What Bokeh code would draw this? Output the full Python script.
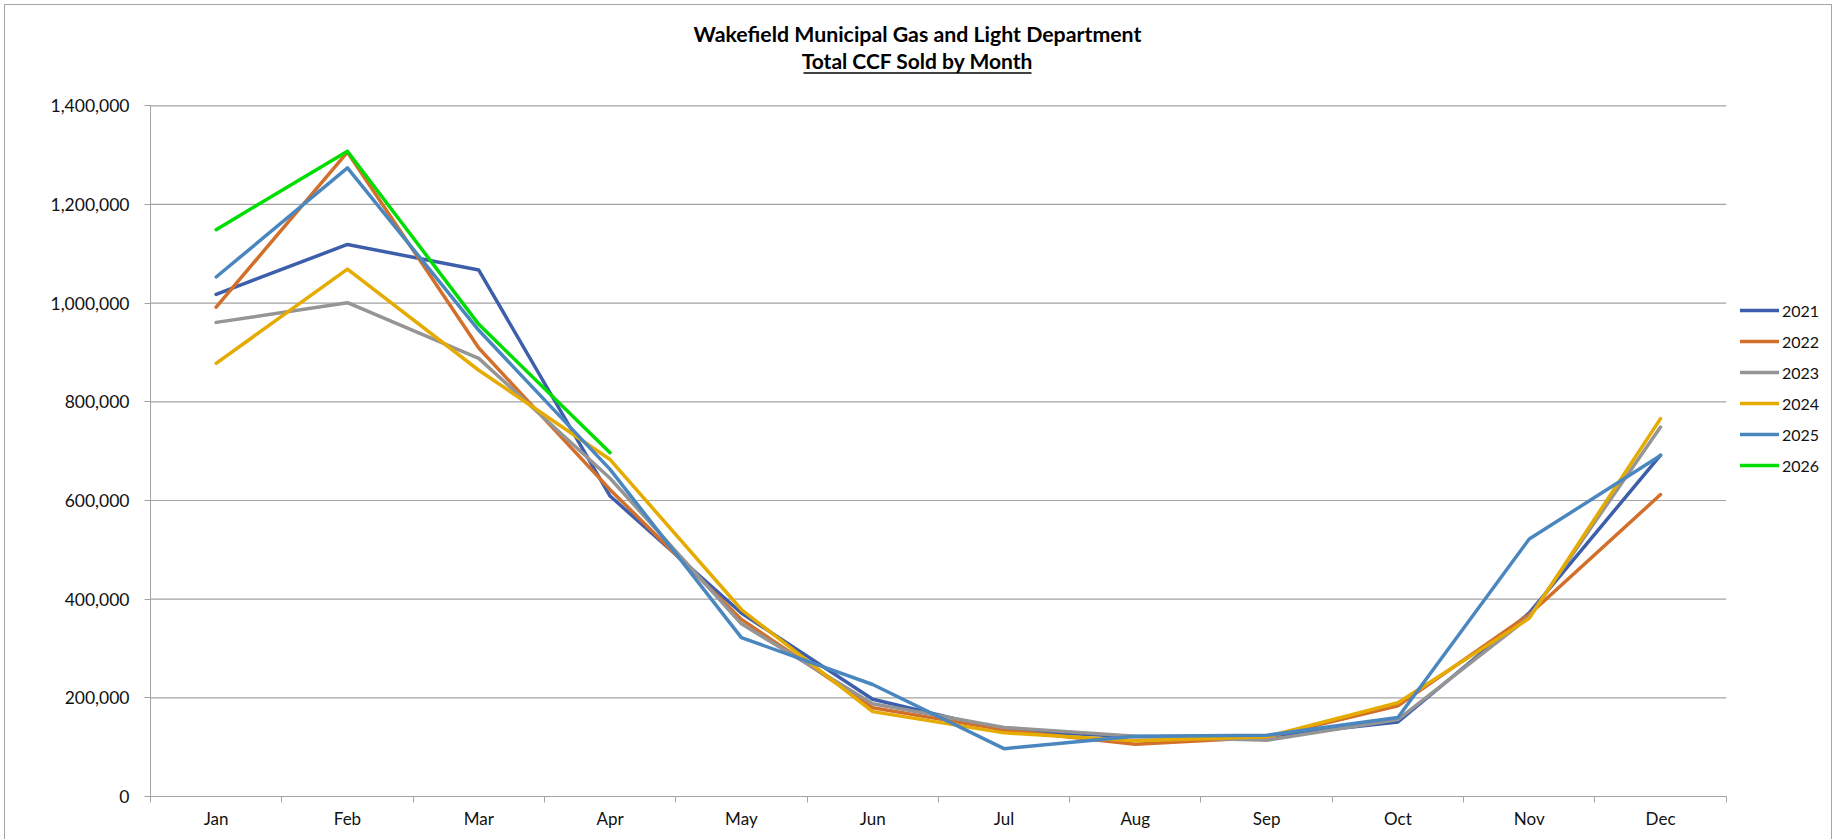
from bokeh.plotting import figure
from bokeh.models import (Range1d, FixedTicker, NumeralTickFormatter, Legend, LegendItem,
                          Label, Arrow)
from bokeh.embed import file_html
from bokeh.resources import INLINE

# ---------------- data ----------------
months = ["Jan", "Feb", "Mar", "Apr", "May", "Jun", "Jul", "Aug", "Sep", "Oct", "Nov", "Dec"]
years = ["2021", "2022", "2023", "2024", "2025", "2026"]
ccf_2021 = [1018000, 1119000, 1067000, 609000, 372000, 197000, 134000, 121000, 122000, 151000, 372000, 692000]
ccf_2022 = [992000, 1306000, 909000, 622000, 359000, 180000, 135000, 106000, 120000, 184000, 369000, 612000]
ccf_2023 = [961000, 1001000, 888000, 645000, 350000, 188000, 140000, 122000, 114000, 156000, 364000, 749000]
ccf_2024 = [878000, 1069000, 864000, 683000, 379000, 172000, 129000, 113000, 121000, 190000, 361000, 766000]
ccf_2025 = [1053000, 1274000, 945000, 663000, 322000, 227000, 97000, 122000, 124000, 160000, 522000, 691000]
ccf_2026 = [1149000, 1308000, 957000, 697000]
y_ticks = [0, 200000, 400000, 600000, 800000, 1000000, 1200000, 1400000]
title_line1 = "Wakefield Municipal Gas and Light Department"
title_line2 = "Total CCF Sold by Month"

series = [ccf_2021, ccf_2022, ccf_2023, ccf_2024, ccf_2025, ccf_2026]
colors = ["#3D5FAB", "#D2702B", "#959595", "#E5AB00", "#4B87BF", "#00DD00"]

# ---------------- layout (figure pixels) ----------------
W, H = 1836, 839
FL = 150          # frame left = y axis
FB = 796          # frame bottom = x axis
P_TOP = 105.3     # pixel row of the top y tick
P_RIGHT = 1725.7  # pixel column of the end of the category axis
FONT = "Lato"
GRID = "#A3A3A3"
TXT = "#111111"

n = len(months)
Y_MAX = y_ticks[-1] * FB / (FB - P_TOP)
X_MAX = n * (W - FL) / (P_RIGHT - FL)

p = figure(width=W, height=H, output_backend="svg", toolbar_location=None,
           x_range=Range1d(0, X_MAX), y_range=Range1d(0, Y_MAX),
           min_border_left=FL, min_border_top=0, min_border_right=0,
           min_border_bottom=H - FB,
           background_fill_color="white", border_fill_color="white")
p.outline_line_color = None
p.stylesheets = [
    ":host { position: relative; }",
    ":host::after { content: ''; position: absolute; top: 4px; left: 4px; right: 4px; bottom: 0;"
    " border: 1.5px solid #A6A6A6; border-bottom: none; pointer-events: none; }",
]
p.xgrid.grid_line_color = None
p.ygrid.grid_line_color = None

# x axis: labels at category centres, ticks at category boundaries
xa = p.xaxis[0]
centres = [i + 0.5 for i in range(n)]
xa.bounds = (0, n)
xa.ticker = FixedTicker(ticks=centres, minor_ticks=list(range(n + 1)))
xa.major_label_overrides = {c: m for c, m in zip(centres, months)}
xa.major_tick_out = 0
xa.major_tick_in = 0
xa.minor_tick_out = 6
xa.minor_tick_in = 0
xa.minor_tick_line_color = GRID
xa.axis_line_color = GRID
xa.major_label_standoff = 5
xa.major_label_text_font = FONT
xa.major_label_text_font_size = "17px"
xa.major_label_text_color = TXT

ya = p.yaxis[0]
ya.bounds = (y_ticks[0], y_ticks[-1])
ya.ticker = FixedTicker(ticks=y_ticks, minor_ticks=[])
ya.formatter = NumeralTickFormatter(format="0,0")
ya.major_tick_out = 6
ya.major_tick_in = 0
ya.major_tick_line_color = GRID
ya.axis_line_color = GRID
ya.major_label_standoff = 15
ya.major_label_text_font = FONT
ya.major_label_text_font_size = "17.5px"
ya.major_label_text_color = TXT

# horizontal gridlines over the category span only
p.segment(x0=0, x1=n, y0=y_ticks[1:], y1=y_ticks[1:], line_color=GRID,
          line_width=1.2, level="underlay")

items = []
for yr, vals, col in zip(years, series, colors):
    r = p.line(x=centres[:len(vals)], y=vals, line_color=col, line_width=3.5,
               line_join="round", line_cap="round")
    items.append(LegendItem(label=yr, renderers=[r]))

# legend to the right of the category span
leg_h = 6 * 20 + 5 * 11
legend = Legend(items=items, location=(1740 - FL, FB - 300 - leg_h), orientation="vertical",
                padding=0, margin=0, spacing=11, glyph_width=39, glyph_height=20,
                label_height=20, label_standoff=3, label_text_font=FONT,
                label_text_font_size="16px", label_text_color=TXT,
                border_line_color=None, background_fill_alpha=0)
p.add_layout(legend)

# ---------------- titles ----------------
def px2x(px):   # figure pixel column -> data x
    return (px - FL) / (W - FL) * X_MAX
def py2y(py):   # figure pixel row -> data y
    return (FB - py) / FB * Y_MAX

cx = px2x(917)
p.add_layout(Label(x=cx, y=py2y(33), text=title_line1, text_align="center",
                   text_baseline="middle", text_font=FONT, text_font_style="bold",
                   text_font_size="21.3px", text_color="black"))
p.add_layout(Label(x=cx, y=py2y(59.5), text=title_line2, text_align="center",
                   text_baseline="middle", text_font=FONT, text_font_style="bold",
                   text_font_size="21px", text_color="black"))
p.add_layout(Arrow(end=None, x_start=px2x(917 - 114), x_end=px2x(917 + 114),
                   y_start=py2y(72.5), y_end=py2y(72.5), line_color="black", line_width=1.5))

open("out.html", "w").write(file_html(p, INLINE, title="Total CCF Sold by Month"))
